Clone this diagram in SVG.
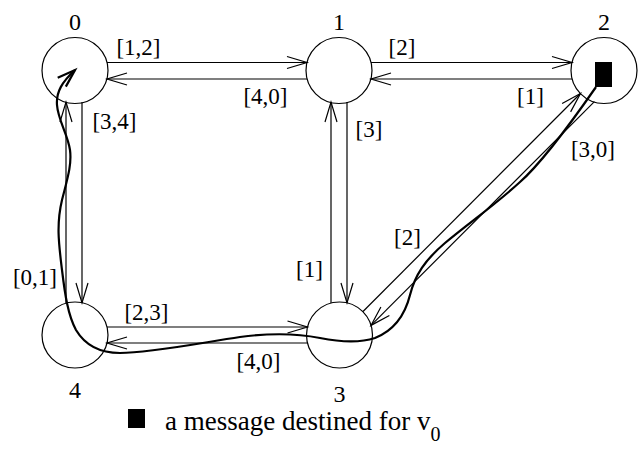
<svg xmlns="http://www.w3.org/2000/svg" width="640" height="450" viewBox="0 0 640 450">
<style>
.node{fill:#fff;stroke:#000;stroke-width:1.2}
.e{fill:none;stroke:#000;stroke-width:1.2;marker-end:url(#ah)}
text{font-family:'Liberation Serif','Times New Roman','DejaVu Serif',serif;fill:#000}
.lbl{font-size:23px;text-anchor:middle}
.nl{font-size:24px;text-anchor:middle}
.leg{font-size:27px}
</style>
<defs>
<marker id="ah" markerUnits="userSpaceOnUse" markerWidth="24" markerHeight="16" viewBox="-22 -8 24 16" refX="0" refY="0" orient="auto" overflow="visible">
<path d="M-20,-6 L0,0 L-20,6" fill="none" stroke="#000" stroke-width="1.2"/>
</marker>
<marker id="ahb" markerUnits="userSpaceOnUse" markerWidth="24" markerHeight="16" viewBox="-22 -8 24 16" refX="0" refY="0" orient="auto" overflow="visible">
<path d="M-18,-6 L0,0 L-18,6" fill="none" stroke="#000" stroke-width="2.2"/>
</marker>
</defs>
<rect width="640" height="450" fill="#fff"/>
<g id="n0"><circle class="node" cx="75" cy="70.5" r="33"/><text class="nl" x="75" y="30">0</text></g>
<g id="n1"><circle class="node" cx="339" cy="70.5" r="33"/><text class="nl" x="339" y="30">1</text></g>
<g id="n2"><circle class="node" cx="604" cy="70.5" r="33"/><text class="nl" x="604" y="30">2</text><rect x="595" y="62" width="17" height="25" fill="#000"/></g>
<g id="n3"><circle class="node" cx="339.5" cy="335" r="33"/><text class="nl" x="339.5" y="402">3</text></g>
<g id="n4"><circle class="node" cx="75" cy="335" r="33"/><text class="nl" x="75" y="398">4</text></g>
<g id="edges">
<line class="e" x1="107" y1="62.5" x2="307" y2="62.5"/>
<line class="e" x1="307" y1="79" x2="107" y2="79"/>
<line class="e" x1="371" y1="62.5" x2="572" y2="62.5"/>
<line class="e" x1="572" y1="79" x2="371" y2="79"/>
<line class="e" x1="82" y1="102" x2="82" y2="303"/>
<line class="e" x1="66" y1="303" x2="66" y2="102"/>
<line class="e" x1="347" y1="102" x2="347" y2="303"/>
<line class="e" x1="331" y1="303" x2="331" y2="102"/>
<line class="e" x1="107" y1="327" x2="307.5" y2="327"/>
<line class="e" x1="307" y1="343" x2="107" y2="343"/>
<line class="e" x1="363" y1="311.5" x2="580.5" y2="93.5"/>
<line class="e" x1="594.4" y1="101.6" x2="371" y2="325.4"/>
<path d="M596,87 C580,110 545,160 520,182 C495,205 470,222 445,243 C425,260 415,275 410,295 C405,315 395,330 375,338 C360,343 340,342 320,338 C295,333 270,333 240,337 C200,343 150,353 120,353 C100,353 85,345 76,330 C68,315 65,295 62,270 C59,245 56,225 62,200 C67,180 72,165 70,150 C68,135 58,120 57,105 C56,92 62,82 75,70" fill="none" stroke="#000" stroke-width="2.2" marker-end="url(#ahb)"/>
</g>
<g id="labels">
<text class="lbl" x="138.5" y="55">[1,2]</text>
<text class="lbl" x="265.5" y="104">[4,0]</text>
<text class="lbl" x="114.5" y="129">[3,4]</text>
<text class="lbl" x="402" y="55">[2]</text>
<text class="lbl" x="530.5" y="104">[1]</text>
<text class="lbl" x="369" y="137">[3]</text>
<text class="lbl" x="593" y="157">[3,0]</text>
<text class="lbl" x="407.5" y="245">[2]</text>
<text class="lbl" x="309.5" y="277">[1]</text>
<text class="lbl" x="35" y="285">[0,1]</text>
<text class="lbl" x="146.5" y="320">[2,3]</text>
<text class="lbl" x="258.5" y="369">[4,0]</text>
</g>
<g id="legend">
<rect x="128" y="409" width="17" height="19" fill="#000"/>
<text class="leg" x="165" y="430">a message destined for v<tspan font-size="20" dy="11">0</tspan></text>
</g>
</svg>
